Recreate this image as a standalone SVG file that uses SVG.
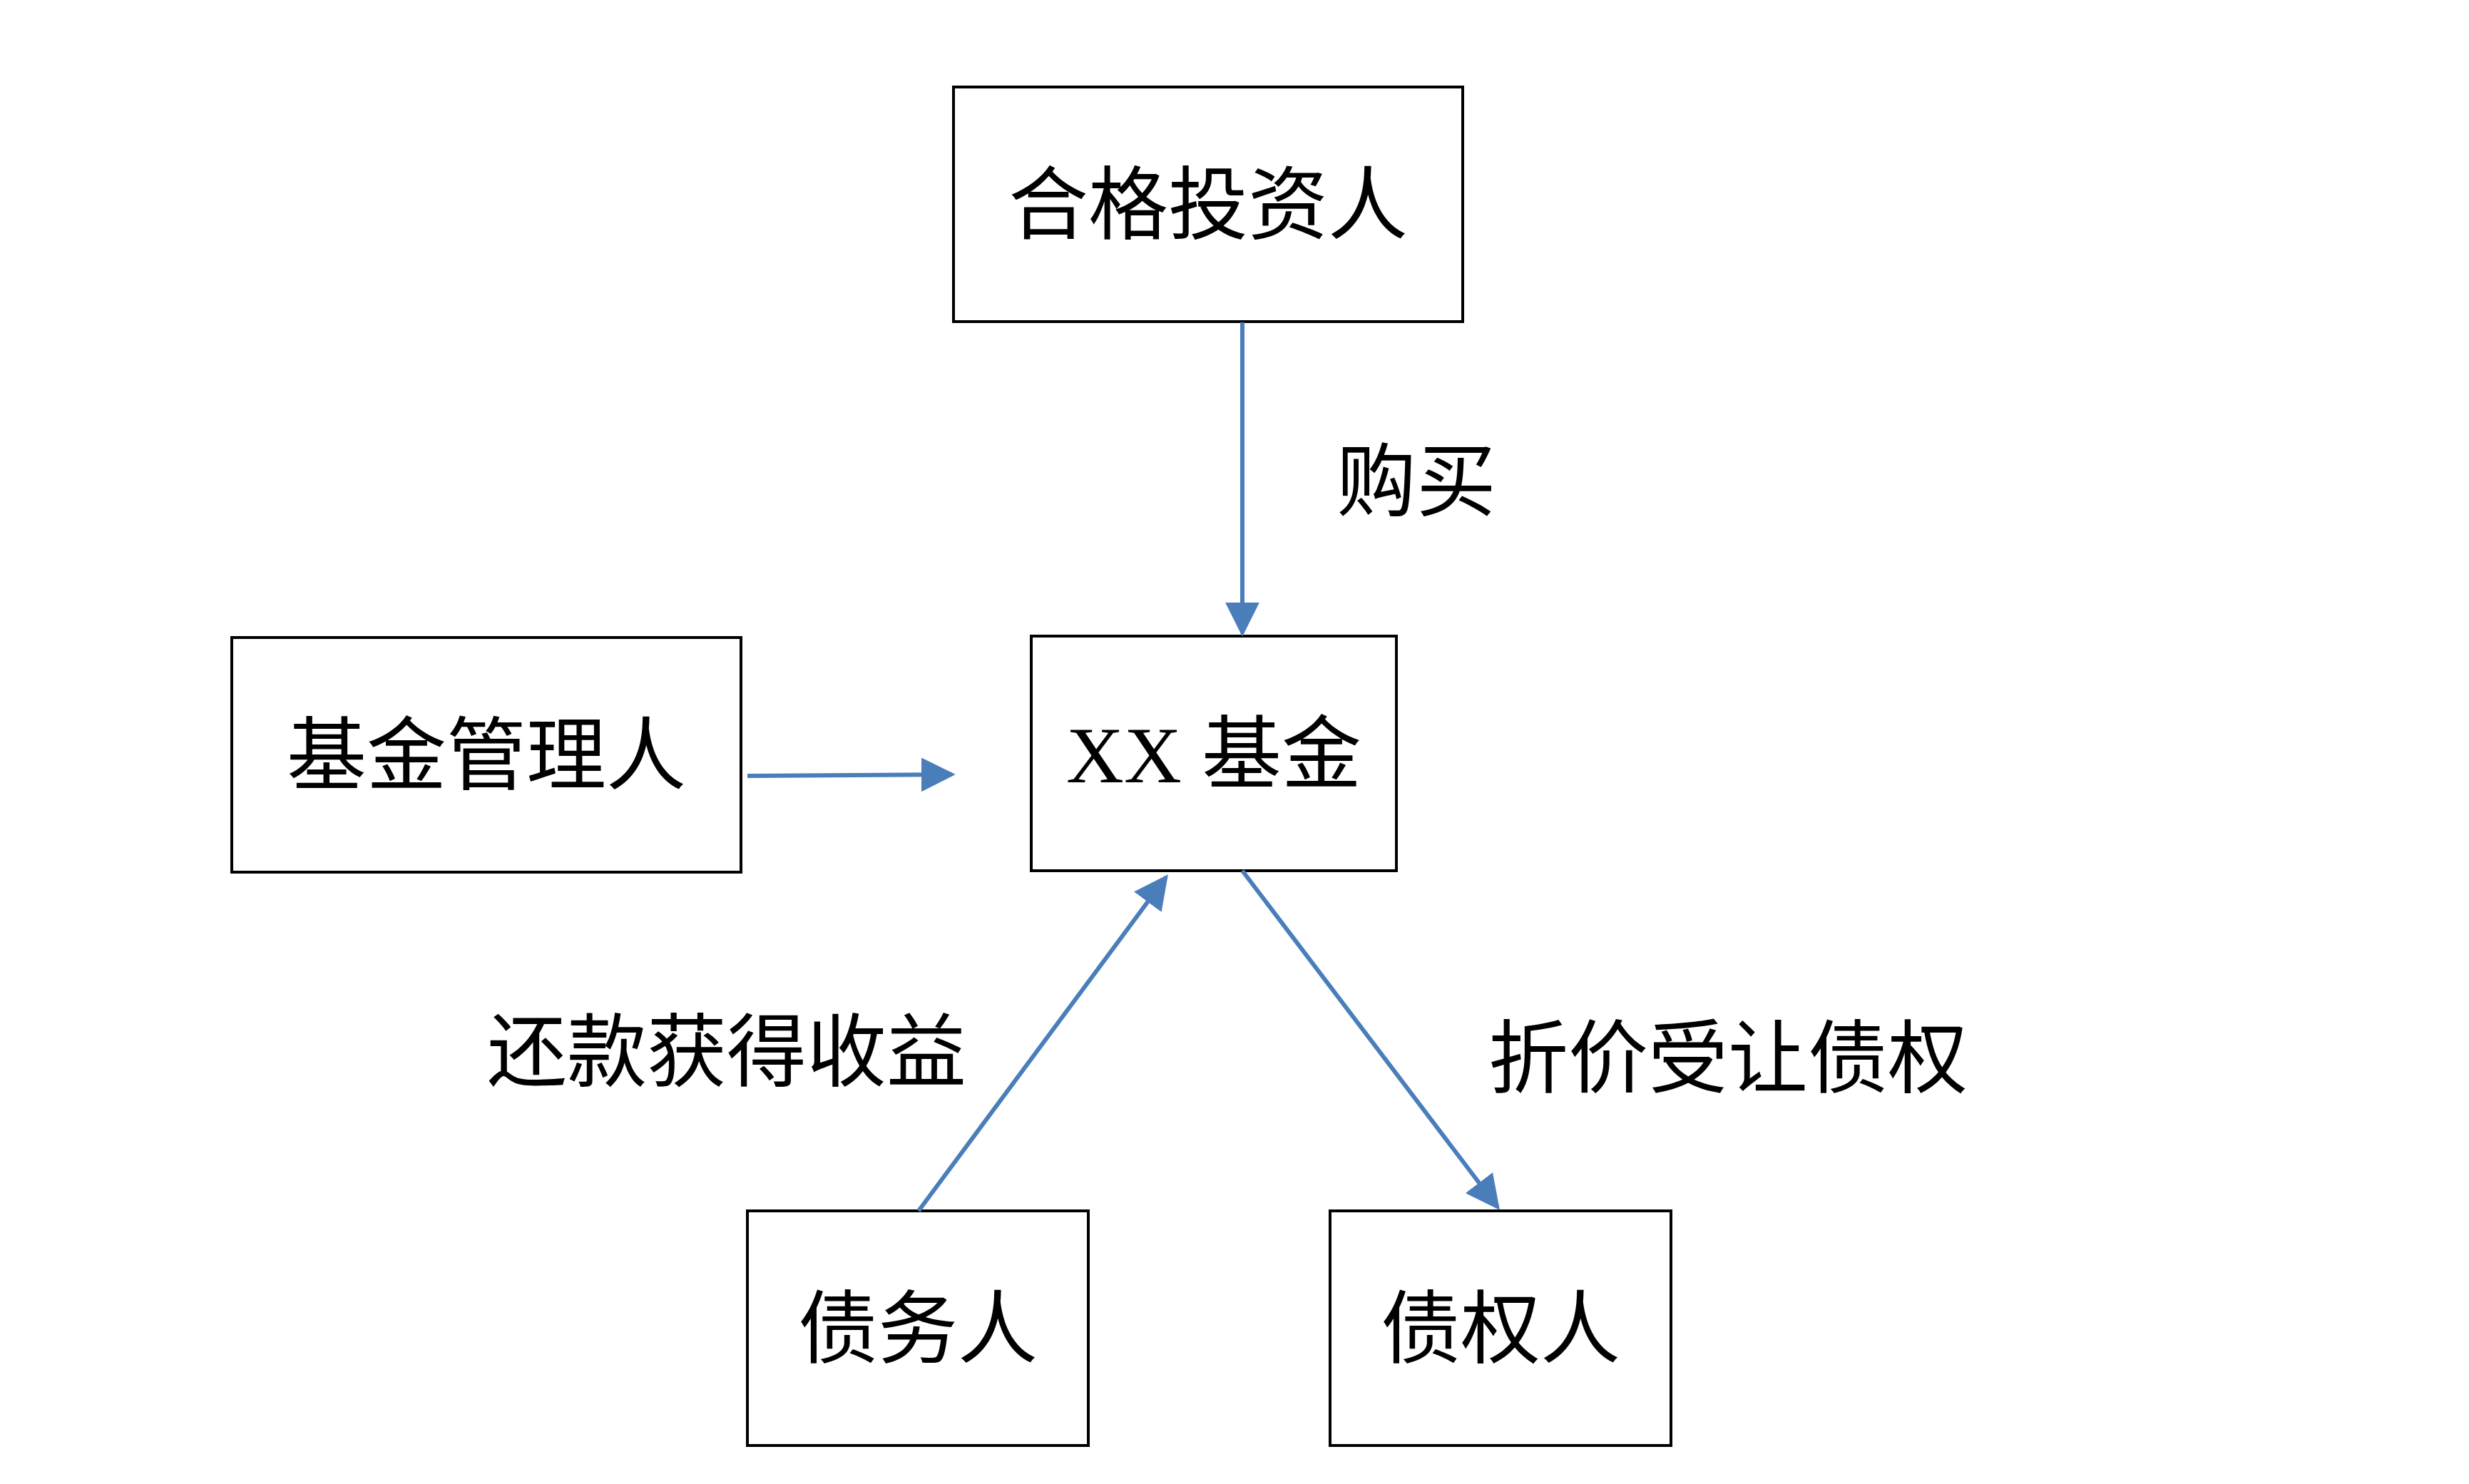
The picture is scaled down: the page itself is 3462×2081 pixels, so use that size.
<svg xmlns="http://www.w3.org/2000/svg" width="3462" height="2081" viewBox="0 0 3462 2081">
<style>
.box{fill:#fff;stroke:#000;stroke-width:4}
.t{font-family:"Liberation Serif","Noto Sans CJK SC",serif;font-size:112px;fill:#000;text-anchor:middle}
.l{font-family:"Liberation Serif","Noto Sans CJK SC",serif;font-size:112px;fill:#000}
.c{stroke:#4A7EBB;stroke-width:6;fill:none;marker-end:url(#a)}
</style>
<defs><marker id="a" viewBox="0 0 10 10" refX="9" refY="5" markerWidth="8" markerHeight="8" markerUnits="strokeWidth" orient="auto"><path d="M0,0L10,5L0,10z" fill="#4A7EBB"/></marker></defs>
<rect width="3462" height="2081" fill="#fff"/>
<g id="investor"><rect class="box" x="1337" y="122" width="714" height="329"/><text class="t" x="1694" y="327">合格投资人</text></g>
<g id="fund"><rect class="box" x="1446" y="892" width="512" height="329"/><text class="t" x="1702" y="1097">XX 基金</text></g>
<g id="manager"><rect class="box" x="325" y="894" width="714" height="329"/><text class="t" x="682" y="1099">基金管理人</text></g>
<g id="debtor"><rect class="box" x="1048" y="1698" width="478" height="329"/><text class="t" x="1287" y="1903">债务人</text></g>
<g id="creditor"><rect class="box" x="1865" y="1698" width="478" height="329"/><text class="t" x="2104" y="1903">债权人</text></g>
<g id="connectors">
<line class="c" x1="1742" y1="452" x2="1742" y2="888"/>
<line class="c" x1="1048" y1="1088" x2="1335" y2="1086"/>
<line class="c" x1="1288" y1="1698" x2="1635" y2="1230"/>
<line class="c" x1="1742" y1="1221" x2="2100" y2="1693"/>
</g>
<text class="l" x="1874" y="715">购买</text>
<text class="l" x="683" y="1515">还款获得收益</text>
<text class="l" x="2087" y="1524">折价受让债权</text>
</svg>
